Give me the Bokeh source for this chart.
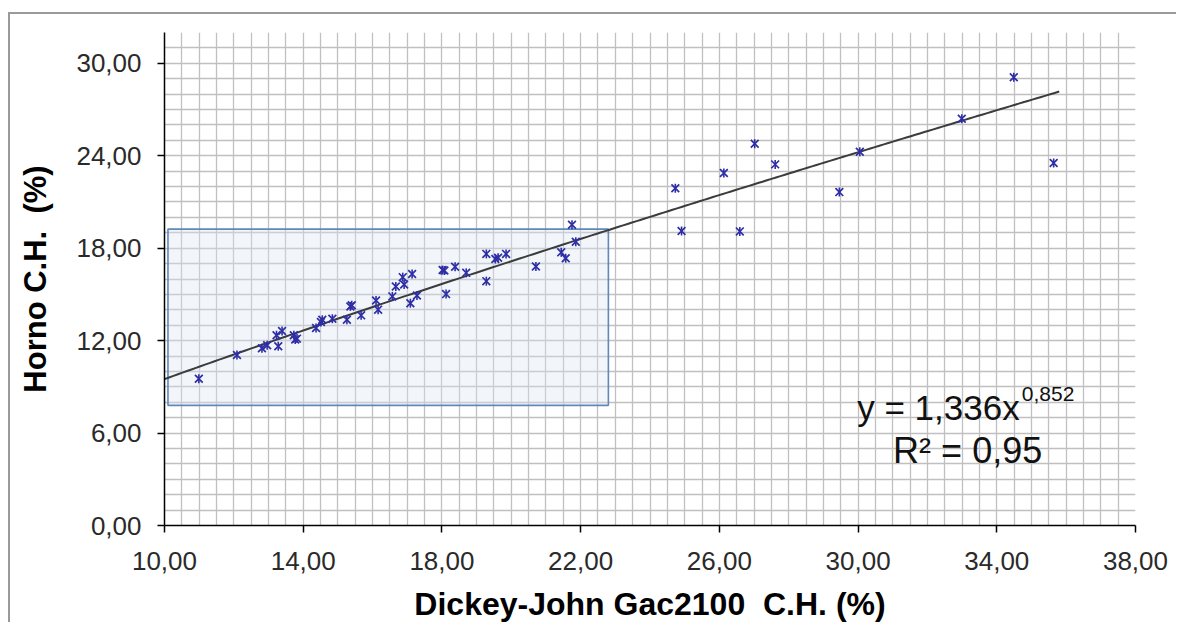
import numpy as np
from bokeh.plotting import figure
from bokeh.models import Range1d, FixedTicker, SingleIntervalTicker, Label
from bokeh.embed import file_html
from bokeh.resources import INLINE

# ---- data ----
dj_x = [10.99, 12.09, 12.81, 12.96, 13.23, 13.28, 13.39, 13.73, 13.82, 13.77,
        14.37, 14.51, 14.55, 14.84, 15.26, 15.36, 15.40, 15.67, 16.10, 16.16,
        16.57, 16.67, 16.87, 16.91, 17.14, 17.09, 17.28, 18.02, 18.07, 18.12,
        18.38, 18.70, 19.28, 19.28, 19.54, 19.62, 19.85, 20.71, 21.44, 21.57,
        21.75, 21.86, 24.73, 24.91, 26.13, 26.59, 27.02, 27.61, 29.46, 30.05,
        32.99, 34.49, 35.64]
horno_y = [9.52, 11.07, 11.50, 11.70, 12.35, 11.64, 12.63, 12.35, 12.13, 12.07,
           12.82, 13.21, 13.35, 13.42, 13.36, 14.22, 14.30, 13.64, 14.61, 14.01,
           14.87, 15.51, 16.12, 15.64, 16.33, 14.43, 14.93, 16.58, 16.55, 15.02,
           16.80, 16.40, 17.63, 15.86, 17.30, 17.38, 17.63, 16.81, 17.73, 17.35,
           19.52, 18.42, 21.89, 19.11, 22.88, 19.09, 24.78, 23.44, 21.64, 24.26,
           26.40, 29.09, 23.53]

# power trend: y = a * x^b
trend_a = 1.336
trend_b = 0.852
trend_x_start = 10.0
trend_x_end = 35.8

x_ticks = [10, 14, 18, 22, 26, 30, 34, 38]
x_tick_labels = ["10,00", "14,00", "18,00", "22,00", "26,00", "30,00", "34,00", "38,00"]
y_ticks = [0, 6, 12, 18, 24, 30]
y_tick_labels = ["0,00", "6,00", "12,00", "18,00", "24,00", "30,00"]

# highlighted region
box_left, box_right, box_bottom, box_top = 10.1, 22.8, 7.8, 19.24

FONT = "Liberation Sans"
NB = "\u00a0"

p = figure(width=1168, height=610, output_backend="svg", toolbar_location=None,
           x_range=Range1d(10, 38), y_range=Range1d(0, 32),
           min_border_left=154, min_border_right=43, min_border_top=18, min_border_bottom=98)
p.margin = (14, 0, 0, 10)
p.styles = {"box-shadow": "-2px -2px 0px 0px #9a9a9a"}
p.outline_line_color = None
p.background_fill_color = "white"
p.border_fill_color = "white"

# grid
p.xgrid.ticker = SingleIntervalTicker(interval=0.5, num_minor_ticks=0)
p.ygrid.ticker = SingleIntervalTicker(interval=1, num_minor_ticks=0)
p.grid.grid_line_color = "#c0c0c0"
p.grid.grid_line_width = 1.3

# axes
p.xaxis.ticker = FixedTicker(ticks=x_ticks)
p.yaxis.ticker = FixedTicker(ticks=y_ticks)
p.xaxis.major_label_overrides = dict(zip(x_ticks, x_tick_labels))
p.yaxis.major_label_overrides = dict(zip(y_ticks, y_tick_labels))
for ax in (p.xaxis[0], p.yaxis[0]):
    ax.axis_line_color = "black"
    ax.axis_line_width = 1.5
    ax.major_tick_line_color = "black"
    ax.major_tick_line_width = 1.5
    ax.major_tick_out = 7
    ax.major_tick_in = 0
    ax.minor_tick_line_color = None
    ax.major_label_text_font = FONT
    ax.major_label_text_font_size = "26px"
    ax.major_label_text_color = "#2a2a2a"
    ax.axis_label_text_font = FONT
    ax.axis_label_text_font_style = "bold"
    ax.axis_label_text_color = "black"

p.xaxis.axis_label = "Dickey-John Gac2100" + NB + NB + "C.H. (%)"
p.yaxis.axis_label = "Horno C.H." + NB + NB + "(%)"
p.xaxis.axis_label_text_font_size = "32px"
p.yaxis.axis_label_text_font_size = "31px"
p.xaxis.major_label_standoff = 19
p.xaxis.axis_label_standoff = 13
p.yaxis.major_label_standoff = 16
p.yaxis.axis_label_standoff = 20

# highlighted box
p.quad(left=[box_left], right=[box_right], bottom=[box_bottom], top=[box_top],
       fill_color="#dbe5f3", fill_alpha=0.35, line_color="#6088bb", line_width=1.6)

# trend line
tx = np.linspace(trend_x_start, trend_x_end, 200)
ty = trend_a * tx ** trend_b
p.line(tx, ty, line_color="#3c3c3c", line_width=2)

# points (star marker: x + vertical line)
pt_color = "#2e2ea6"
p.scatter(dj_x, horno_y, marker="x", size=11, line_color=pt_color, line_width=1.7)
p.scatter(dj_x, horno_y, marker="dash", angle=np.pi / 2, size=9, line_color=pt_color, line_width=1.6)

# equation text
p.add_layout(Label(x=34.66, y=7.69, text="y = 1,336x", text_align="right",
                   text_baseline="alphabetic", text_font=FONT, text_font_size="35px",
                   text_color="#111111"))
p.add_layout(Label(x=34.72, y=8.55, text="0,852", text_align="left",
                   text_baseline="alphabetic", text_font=FONT, text_font_size="21px",
                   text_color="#111111"))
p.add_layout(Label(x=33.16, y=4.85, text="R² = 0,95", text_align="center",
                   text_baseline="alphabetic", text_font=FONT, text_font_size="36px",
                   text_color="#111111"))

open("out.html", "w").write(file_html(p, INLINE))
